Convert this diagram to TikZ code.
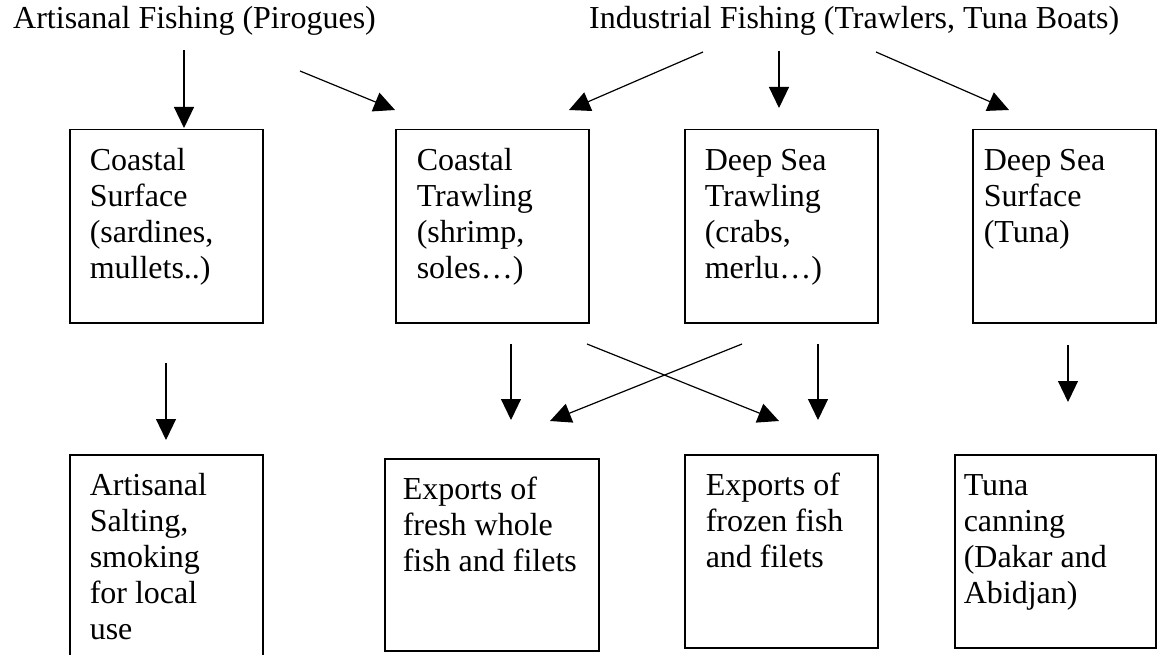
\documentclass[tikz,border=0pt]{standalone}
\usepackage{fontspec}
\setmainfont{Liberation Serif}
\usetikzlibrary{arrows.meta}
% #1 height, #2 width, #3 left padding, #4 lines separated by \par
\newcommand\cellbox[4]{\vbox to #1{\hsize=#2\leftskip=#3\rightskip=0pt plus 1fil\parindent=0pt\parskip=0pt\parfillskip=0pt plus 1fil\vskip16pt\noindent\strut #4\par\vss}}
\tikzset{
  cell/.style={draw, line width=1.5pt, inner sep=0pt, anchor=north west},
  flow/.style={-{Triangle[length=21pt,width=20pt]}, line width=1.2pt},
  ttl/.style={anchor=base west, inner sep=0pt}
}
\begin{document}
\begin{tikzpicture}[x=1pt, y=-1pt, font=\fontsize{32}{36}\selectfont]
\useasboundingbox (0,0) rectangle (1157,655);
% titles
\node[ttl] (art) at (13,29) {Artisanal Fishing (Pirogues)};
\node[ttl] (ind) at (589,29) {Industrial Fishing (Trawlers, Tuna Boats)};
% top row
\node[cell] (b1) at (69,129) {\cellbox{193pt}{193pt}{20pt}{Coastal\par Surface\par (sardines,\par mullets..)}};
\node[cell] (b2) at (395,129) {\cellbox{193pt}{193pt}{21pt}{Coastal\par Trawling\par (shrimp,\par soles…)}};
\node[cell] (b3) at (684,129) {\cellbox{193pt}{193pt}{20pt}{Deep Sea\par Trawling\par (crabs,\par merlu…)}};
\node[cell] (b4) at (972,129) {\cellbox{193pt}{183pt}{11pt}{Deep Sea\par Surface\par (Tuna)}};
% bottom row
\node[cell] (b5) at (69,454) {\cellbox{240pt}{193pt}{20pt}{Artisanal\par Salting,\par smoking\par for local\par use}};
\node[cell] (b6) at (384,458) {\cellbox{192pt}{214pt}{18pt}{Exports of\par fresh whole\par fish and filets}};
\node[cell] (b7) at (684,454) {\cellbox{193pt}{193pt}{21pt}{Exports of\par frozen fish\par and filets}};
\node[cell] (b8) at (954,454) {\cellbox{193pt}{201pt}{9pt}{Tuna\par canning\par (Dakar and\par Abidjan)}};
% connector end points
\coordinate (a1s) at (184,50);   \coordinate (a1e) at (184,128);
\coordinate (a2s) at (300,71);   \coordinate (a2e) at (395,110);
\coordinate (a3s) at (703,52);   \coordinate (a3e) at (569,110);
\coordinate (a4s) at (779,51);   \coordinate (a4e) at (779,108);
\coordinate (a5s) at (876,52);   \coordinate (a5e) at (1009,110);
\coordinate (a6s) at (166,363);  \coordinate (a6e) at (166,440);
\coordinate (a7s) at (511,344);  \coordinate (a7e) at (511,420);
\coordinate (a8s) at (742,344);  \coordinate (a8e) at (550,421);
\coordinate (a9s) at (587,344);  \coordinate (a9e) at (779,421);
\coordinate (a10s) at (818,344); \coordinate (a10e) at (818,420);
\coordinate (a11s) at (1068,345);\coordinate (a11e) at (1068,402);
\foreach \i in {1,...,11} \draw[flow] (a\i s) -- (a\i e);
\end{tikzpicture}
\end{document}
